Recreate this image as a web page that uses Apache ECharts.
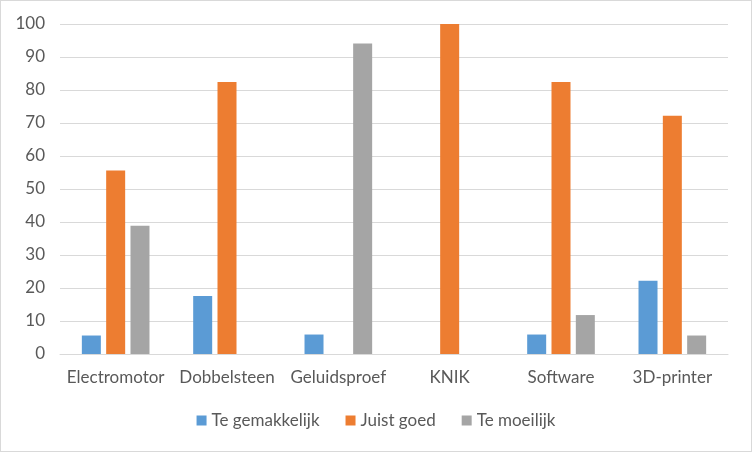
<!DOCTYPE html>
<html><head><meta charset="utf-8">
<script src="https://cdn.jsdelivr.net/npm/echarts@6/dist/echarts.min.js"></script>
<style>html,body{margin:0;padding:0;background:#fff}#c{width:752px;height:452px;box-sizing:border-box;border:1px solid #d9d9d9;}</style>
</head><body><div id="c"></div>
<script>
const categories = ["Electromotor","Dobbelsteen","Geluidsproef","KNIK","Software","3D-printer"];
const teGemakkelijk = [5.6, 17.6, 5.9, 0, 5.9, 22.2];
const juistGoed = [55.6, 82.4, 0, 100, 82.4, 72.2];
const teMoeilijk = [38.9, 0, 94.1, 0, 11.8, 5.6];
const seriesNames = ["Te gemakkelijk","Juist goed","Te moeilijk"];
const colors = ["#5B9BD5","#ED7D31","#A5A5A5"];
const font = "Lato, 'Open Sans', sans-serif";
const chart = echarts.init(document.getElementById('c'), null, {renderer:'canvas'});
const mk = (name, data, i) => ({name, type:'bar', data, barWidth:19, barGap:'28%', itemStyle:{color:colors[i]}});
chart.setOption({
  animation:false,
  color: colors,
  grid:{left:59, right:23, top:23, bottom:97},
  legend:{bottom:17, left:'center', itemWidth:10, itemHeight:10, itemGap:26, icon:'rect',
    textStyle:{color:'#595959', fontSize:17, fontFamily:font}, data:seriesNames},
  xAxis:{type:'category', data:categories, axisTick:{show:false},
    axisLine:{lineStyle:{color:'#d9d9d9', width:1}},
    axisLabel:{color:'#595959', fontSize:17, fontFamily:font, margin:15, interval:0}},
  yAxis:{type:'value', min:0, max:100, interval:10, axisLine:{show:false}, axisTick:{show:false},
    splitLine:{lineStyle:{color:'#d9d9d9', width:1}},
    axisLabel:{color:'#595959', fontSize:17, fontFamily:font, margin:15}},
  series:[mk(seriesNames[0], teGemakkelijk, 0), mk(seriesNames[1], juistGoed, 1), mk(seriesNames[2], teMoeilijk, 2)]
});
</script></body></html>
